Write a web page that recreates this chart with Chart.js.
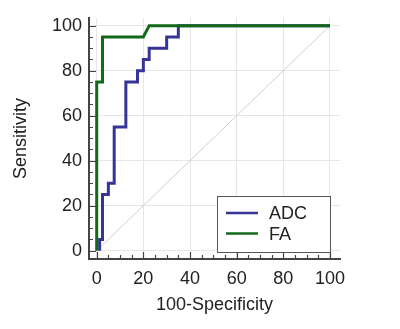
<!DOCTYPE html>
<html>
<head>
<meta charset="utf-8">
<script src="https://cdn.jsdelivr.net/npm/chart.js@4"></script>
<style>
  html, body { margin: 0; padding: 0; background: #fff; }
  #wrap { width: 400px; height: 329px; }
</style>
</head>
<body>
<div id="wrap"><canvas id="roc"></canvas></div>
<script>
// ROC curves, values in percent (100-Specificity, Sensitivity)
const adcX = [1.25, 1.25, 2.5, 2.5, 5, 5, 7.5, 7.5, 12.5, 12.5, 17.5, 17.5, 20, 20, 22.5, 22.5, 30, 30, 35, 35, 100];
const adcY = [0, 5, 5, 25, 25, 30, 30, 55, 55, 75, 75, 80, 80, 85, 85, 90, 90, 95, 95, 100, 100];
const faX = [0, 0, 2.5, 2.5, 20, 22.5, 100];
const faY = [0, 75, 75, 95, 95, 100, 100];
const diagX = [0, 100];
const diagY = [0, 100];

const xTicks = [0, 20, 40, 60, 80, 100];
const yTicks = [0, 20, 40, 60, 80, 100];
const minorStep = 5;

const seriesNames = ['ADC', 'FA'];
const seriesColors = ['#353597', '#12691a'];

const FONT = 'Liberation Sans, Arial, sans-serif';
const TEXT = '#222';
const AXIS = '#444';

const pts = (xs, ys) => xs.map((x, i) => ({ x: x, y: ys[i] }));

// inward tick marks (major + minor)
const innerTicks = {
  id: 'innerTicks',
  afterDraw(chart) {
    const { ctx, chartArea: a, scales: { x, y } } = chart;
    ctx.save();
    ctx.strokeStyle = AXIS;
    ctx.lineWidth = 1.2;
    ctx.beginPath();
    for (let v = 0; v <= 100; v += minorStep) {
      const len = v % 20 === 0 ? 7 : 4;
      const px = Math.round(x.getPixelForValue(v)) + 0.5;
      ctx.moveTo(px, a.bottom);
      ctx.lineTo(px, a.bottom - len);
      const py = Math.round(y.getPixelForValue(v)) + 0.5;
      ctx.moveTo(a.left, py);
      ctx.lineTo(a.left + len, py);
    }
    ctx.stroke();
    ctx.restore();
  }
};

// boxed legend in the lower right of the plot
const boxLegend = {
  id: 'boxLegend',
  afterDraw(chart) {
    const { ctx, chartArea: a, scales: { x } } = chart;
    const right = x.getPixelForValue(100);
    const w = 113, h = 56;
    const left = right - w, bottom = a.bottom - 7, top = bottom - h;
    ctx.save();
    ctx.fillStyle = '#fff';
    ctx.fillRect(left, top, w, h);
    ctx.strokeStyle = '#555';
    ctx.lineWidth = 1;
    ctx.strokeRect(Math.round(left) + 0.5, Math.round(top) + 0.5, w, h);
    ctx.font = '18px ' + FONT;
    ctx.textBaseline = 'middle';
    ctx.fillStyle = TEXT;
    seriesNames.forEach((name, i) => {
      const cy = top + 17 + i * 20.6;
      ctx.strokeStyle = seriesColors[i];
      ctx.lineWidth = 2.5;
      ctx.beginPath();
      ctx.moveTo(left + 9, cy);
      ctx.lineTo(left + 41, cy);
      ctx.stroke();
      ctx.fillText(name, left + 52, cy + 1);
    });
    ctx.restore();
  }
};

new Chart(document.getElementById('roc'), {
  type: 'line',
  data: {
    datasets: [
      {
        label: 'FA',
        data: pts(faX, faY),
        borderColor: seriesColors[1],
        borderWidth: 3,
        pointRadius: 0,
        order: 0
      },
      {
        label: 'ADC',
        data: pts(adcX, adcY),
        borderColor: seriesColors[0],
        borderWidth: 3,
        pointRadius: 0,
        order: 1
      },
      {
        label: 'ref',
        data: pts(diagX, diagY),
        borderColor: '#cfcfcf',
        borderWidth: 1,
        pointRadius: 0,
        order: 2
      }
    ]
  },
  options: {
    responsive: true,
    maintainAspectRatio: false,
    animation: false,
    layout: { padding: { left: 0, top: 13, right: 60, bottom: 0 } },
    plugins: {
      legend: { display: false },
      tooltip: { enabled: false }
    },
    scales: {
      x: {
        type: 'linear',
        min: -3.3,
        max: 104.3,
        afterBuildTicks: s => { s.ticks = xTicks.map(v => ({ value: v })); },
        afterFit: s => { s.height = 70; },
        grid: { color: '#e6e6e6', drawTicks: false },
        border: { display: true, color: AXIS, width: 2 },
        ticks: { padding: 9, color: TEXT, font: { family: FONT, size: 18 } },
        title: {
          display: true,
          text: '100-Specificity',
          color: TEXT,
          font: { family: FONT, size: 18 },
          padding: { top: 0, bottom: 13 }
        }
      },
      y: {
        type: 'linear',
        min: -3.7,
        max: 103.5,
        afterBuildTicks: s => { s.ticks = yTicks.map(v => ({ value: v })); },
        afterFit: s => { s.width = 89; },
        grid: { color: '#e6e6e6', drawTicks: false },
        border: { display: true, color: AXIS, width: 2 },
        ticks: { padding: 7, color: TEXT, font: { family: FONT, size: 18 } },
        title: {
          display: true,
          text: 'Sensitivity',
          color: TEXT,
          font: { family: FONT, size: 18 },
          padding: { top: 10, bottom: 0 }
        }
      }
    }
  },
  plugins: [innerTicks, boxLegend]
});
</script>
</body>
</html>
